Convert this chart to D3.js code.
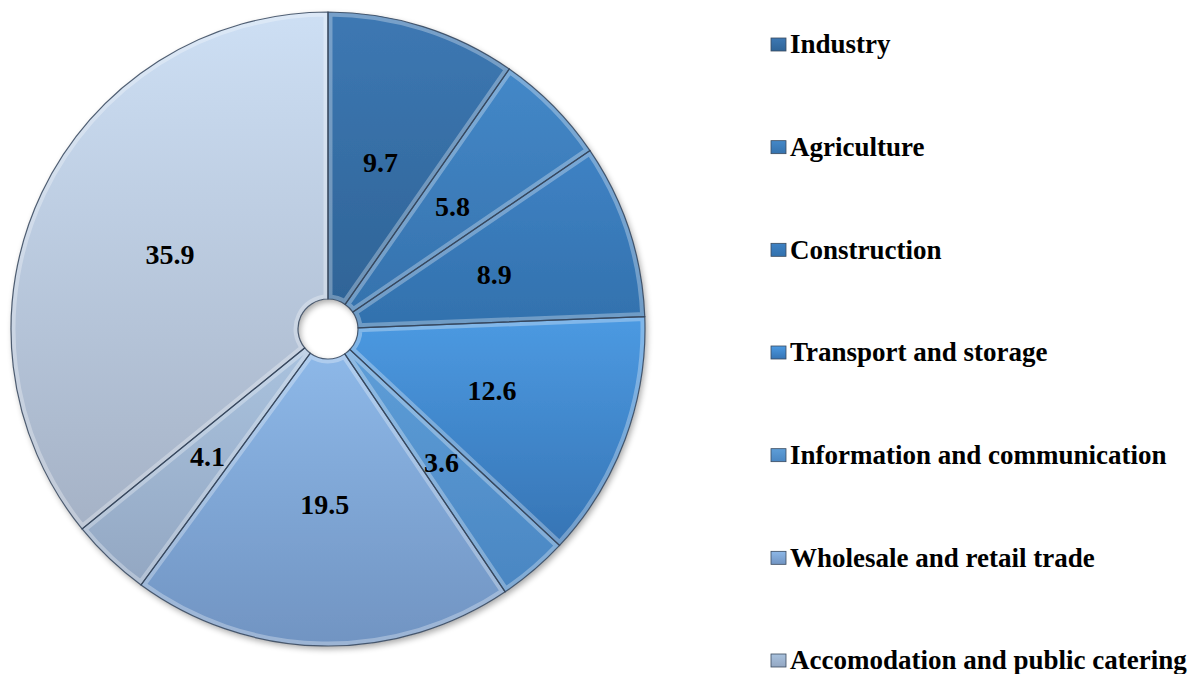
<!DOCTYPE html>
<html>
<head>
<meta charset="utf-8">
<script src="https://cdn.jsdelivr.net/npm/d3@7"></script>
<style>
  body { margin: 0; background: #fff; }
  svg text { font-family: "Liberation Serif", "Times New Roman", serif; font-weight: bold; }
</style>
</head>
<body>
<div id="chart"></div>
<script>
// data
var sectors = ["Industry", "Agriculture", "Construction", "Transport and storage",
  "Information and communication", "Wholesale and retail trade",
  "Accomodation and public catering", "Other"];
var shares = [9.7, 5.8, 8.9, 12.6, 3.6, 19.5, 4.1, 35.9];
// legend only shows the first seven in the original
var legendNames = sectors.slice(0, 7);

// top / bottom colours of each slice gradient
var topColors = ["#3d78b3", "#4488c8", "#3f82c4", "#4c9ae2", "#5e9ed8", "#8db8e8", "#a9c2de", "#cddff4"];
var bottomColors = ["#2f6497", "#3572ad", "#3271ad", "#3674b4", "#4a86c2", "#7194c2", "#93a7c2", "#a5b2c6"];

var svgWidth = 1193;
var svgHeight = 674;
var cx = 328, cy = 329;
var outerR = 317, innerR = 30;

var svg = d3.select("#chart")
  .append("svg")
  .attr("width", svgWidth)
  .attr("height", svgHeight);

var defs = svg.append("defs");

var shadow = defs.append("filter").attr("id", "shadow")
  .attr("x", "-10%").attr("y", "-10%").attr("width", "120%").attr("height", "120%");
shadow.append("feGaussianBlur").attr("in", "SourceAlpha").attr("stdDeviation", 3);
shadow.append("feOffset").attr("dx", 2).attr("dy", 3).attr("result", "off");
shadow.append("feComponentTransfer").append("feFuncA").attr("type", "linear").attr("slope", 0.35);
var merge = shadow.append("feMerge");
merge.append("feMergeNode");
merge.append("feMergeNode").attr("in", "SourceGraphic");

var data = sectors.map(function(s, i) { return { name: s, value: shares[i], i: i }; });

data.forEach(function(d) {
  var g = defs.append("linearGradient")
    .attr("id", "grad" + d.i)
    .attr("x1", 0).attr("y1", 0).attr("x2", 0).attr("y2", 1);
  g.append("stop").attr("offset", "0%").attr("stop-color", topColors[d.i]);
  g.append("stop").attr("offset", "100%").attr("stop-color", bottomColors[d.i]);
});

var pie = d3.pie().sort(null).value(function(d) { return d.value; });
var arc = d3.arc().innerRadius(innerR).outerRadius(outerR);
var labelArc = d3.arc().innerRadius(175).outerRadius(175);

var arcs = pie(data);

var chartGroup = svg.append("g")
  .attr("transform", "translate(" + cx + "," + cy + ")");

// clip paths so the inner bevel highlight stays inside each slice
arcs.forEach(function(a, i) {
  defs.append("clipPath").attr("id", "clip" + i)
    .append("path").attr("d", arc(a));
});

var slices = chartGroup.append("g").attr("filter", "url(#shadow)");

slices.selectAll("path.slice")
  .data(arcs)
  .enter()
  .append("path")
  .attr("class", "slice")
  .attr("d", arc)
  .attr("fill", function(d, i) { return "url(#grad" + i + ")"; });

// bevel: light inner edge
chartGroup.selectAll("path.bevel")
  .data(arcs)
  .enter()
  .append("path")
  .attr("class", "bevel")
  .attr("d", arc)
  .attr("fill", "none")
  .attr("stroke", "rgba(255,255,255,0.3)")
  .attr("stroke-width", 9)
  .attr("clip-path", function(d, i) { return "url(#clip" + i + ")"; });

chartGroup.selectAll("path.edge")
  .data(arcs)
  .enter()
  .append("path")
  .attr("class", "edge")
  .attr("d", arc)
  .attr("fill", "none")
  .attr("stroke", "#34445a")
  .attr("stroke-opacity", 0.85)
  .attr("stroke-width", 1.2);

chartGroup.selectAll("text.value")
  .data(arcs)
  .enter()
  .append("text")
  .attr("class", "value")
  .attr("transform", function(d) { return "translate(" + labelArc.centroid(d) + ")"; })
  .attr("text-anchor", "middle")
  .attr("dy", "0.35em")
  .attr("font-size", 28)
  .attr("fill", "#000")
  .text(function(d) { return d.data.value; });

// legend
var legendScale = d3.scalePoint()
  .domain(legendNames)
  .range([44, 660]);

var legend = svg.append("g");
var items = legend.selectAll("g")
  .data(legendNames)
  .enter()
  .append("g")
  .attr("transform", function(d) { return "translate(771," + legendScale(d) + ")"; });

items.append("rect")
  .attr("x", 0).attr("y", -6)
  .attr("width", 15).attr("height", 13)
  .attr("fill", function(d, i) { return "url(#grad" + i + ")"; })
  .attr("stroke", "#3a4a5e")
  .attr("stroke-width", 0.8);

items.append("text")
  .attr("x", 19)
  .attr("dy", "0.35em")
  .attr("font-size", 27)
  .attr("fill", "#000")
  .text(function(d) { return d; });
</script>
</body>
</html>
